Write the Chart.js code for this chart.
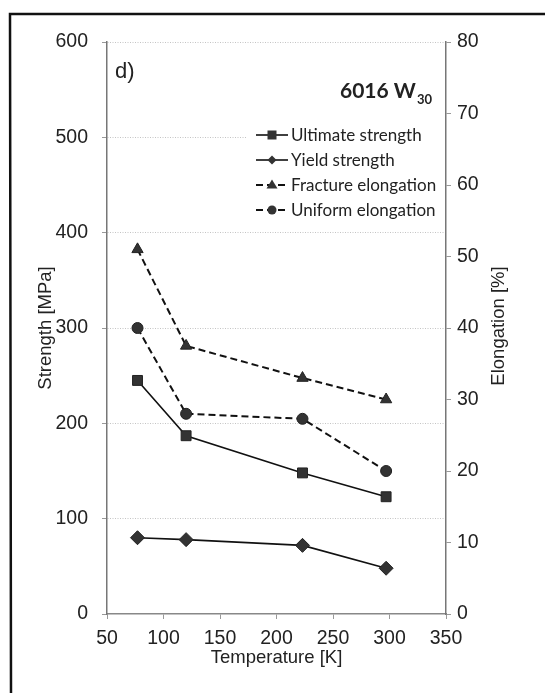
<!DOCTYPE html>
<html>
<head>
<meta charset="utf-8">
<script src="https://cdn.jsdelivr.net/npm/chart.js"></script>
<style>
  html, body { margin: 0; padding: 0; background: #fff; }
  #chart { display: block; }
</style>
</head>
<body>
<canvas id="chart" width="545" height="693"></canvas>
<script>
// temperatures [K]
const temps = [77, 120, 223, 297];
// strength [MPa]
const ultimate = [245, 187, 148, 123];
const yieldStr = [80, 78, 72, 48];
// elongation [%]
const fracture = [51, 37.5, 33, 30];
const uniform = [40, 28, 27.3, 20];

const names = ['Ultimate strength', 'Yield strength', 'Fracture elongation', 'Uniform elongation'];

const toPoints = vals => vals.map((v, i) => ({ x: temps[i], y: v }));

const tickFont = { family: 'Liberation Sans, Arial, sans-serif', size: 19.5 };
const titleFont = { family: 'Liberation Sans, Arial, sans-serif', size: 18.5 };

function series(label, vals, axis, style, radius, dashed) {
  return {
    label: label,
    data: toPoints(vals),
    yAxisID: axis,
    borderColor: '#111',
    borderWidth: dashed ? 2 : 1.6,
    borderDash: dashed ? [7, 4] : [],
    pointStyle: style,
    pointRadius: radius,
    pointBackgroundColor: '#333',
    pointBorderColor: '#222',
    pointBorderWidth: 1,
    showLine: true,
    tension: 0
  };
}

// draws the scanned frame, the labels inside the plot and the legend box
const extras = {
  id: 'extras',
  beforeDatasetsDraw(chart) {
    const ctx = chart.ctx;
    ctx.save();
    // legend background hides the 500 grid line
    ctx.fillStyle = '#fff';
    ctx.fillRect(246, 122, 198, 102);
    ctx.restore();
  },
  afterDraw(chart) {
    const ctx = chart.ctx;
    ctx.save();

    // outer frame
    ctx.strokeStyle = '#111';
    ctx.lineWidth = 2.5;
    ctx.beginPath();
    ctx.moveTo(545, 14);
    ctx.lineTo(10, 14);
    ctx.lineTo(11, 693);
    ctx.stroke();

    // panel letter and alloy name
    ctx.fillStyle = '#222';
    ctx.textBaseline = 'alphabetic';
    ctx.textAlign = 'left';
    ctx.font = '22px "Liberation Sans", Arial, sans-serif';
    ctx.fillText('d)', 115, 78);
    ctx.font = 'bold 21px Lato, sans-serif';
    ctx.fillText('6016 W', 340, 98);
    const w = ctx.measureText('6016 W').width;
    ctx.font = 'bold 13px Lato, sans-serif';
    ctx.fillText('30', 340 + w + 1, 104);

    // right axis title, reads bottom to top
    ctx.font = '18.5px "Liberation Sans", Arial, sans-serif';
    ctx.textAlign = 'center';
    ctx.textBaseline = 'middle';
    ctx.translate(499, 326);
    ctx.rotate(-Math.PI / 2);
    ctx.fillText('Elongation [%]', 0, 0);
    ctx.setTransform(1, 0, 0, 1, 0, 0);

    // legend
    const sets = chart.data.datasets;
    sets.forEach((ds, i) => {
      const y = 135 + i * 25;
      const x0 = 256, x1 = 288, cx = (x0 + x1) / 2;
      ctx.strokeStyle = '#111';
      ctx.lineWidth = ds.borderWidth;
      ctx.setLineDash(ds.borderDash);
      ctx.beginPath();
      ctx.moveTo(x0, y);
      ctx.lineTo(x1, y);
      ctx.stroke();
      ctx.setLineDash([]);
      ctx.fillStyle = '#333';
      ctx.beginPath();
      const r = 4.5;
      if (ds.pointStyle === 'rect') {
        ctx.rect(cx - r, y - r, 2 * r, 2 * r);
      } else if (ds.pointStyle === 'rectRot') {
        ctx.moveTo(cx, y - r);
        ctx.lineTo(cx + r, y);
        ctx.lineTo(cx, y + r);
        ctx.lineTo(cx - r, y);
        ctx.closePath();
      } else if (ds.pointStyle === 'triangle') {
        ctx.moveTo(cx, y - r - 1);
        ctx.lineTo(cx + r + 1, y + r - 1);
        ctx.lineTo(cx - r - 1, y + r - 1);
        ctx.closePath();
      } else {
        ctx.arc(cx, y, r, 0, Math.PI * 2);
      }
      ctx.fill();
      ctx.fillStyle = '#222';
      ctx.font = '17px Lato, sans-serif';
      ctx.textAlign = 'left';
      ctx.textBaseline = 'middle';
      ctx.fillText(names[i], 291, y + 1);
    });

    ctx.restore();
  }
};

new Chart(document.getElementById('chart'), {
  type: 'scatter',
  data: {
    datasets: [
      series(names[0], ultimate, 'y', 'rect', 7, false),
      series(names[1], yieldStr, 'y', 'rectRot', 7, false),
      series(names[2], fracture, 'y1', 'triangle', 6.5, true),
      series(names[3], uniform, 'y1', 'circle', 5.5, true)
    ]
  },
  options: {
    responsive: false,
    animation: false,
    layout: { padding: { top: 42, left: 0, right: 0, bottom: 0 } },
    plugins: {
      legend: { display: false },
      tooltip: { enabled: false }
    },
    scales: {
      x: {
        type: 'linear',
        min: 50,
        max: 350,
        afterFit(scale) { scale.height = 79; },
        ticks: { stepSize: 50, color: '#222', font: tickFont, padding: 8, maxRotation: 0 },
        grid: { drawOnChartArea: false, tickLength: 5, color: '#999' },
        border: { color: '#888', dash: [1, 1.5], width: 1.5 },
        title: { display: true, text: 'Temperature [K]', color: '#222', font: titleFont, padding: { bottom: 24 } }
      },
      y: {
        position: 'left',
        min: 0,
        max: 600,
        afterFit(scale) { scale.width = 107; },
        ticks: { stepSize: 100, color: '#222', font: tickFont, padding: 14 },
        grid: {
          tickLength: 5,
          color: c => (c.tick && c.tick.value === 0) ? 'rgba(0,0,0,0)' : '#c4c4c4',
          tickColor: '#999'
        },
        border: { color: '#777', dash: [1, 1.5], width: 1.5 },
        title: { display: true, text: 'Strength [MPa]', color: '#222', font: titleFont, padding: { top: 35 } }
      },
      y1: {
        position: 'right',
        min: 0,
        max: 80,
        afterFit(scale) { scale.width = 99; },
        ticks: { stepSize: 10, color: '#222', font: tickFont, padding: 6 },
        grid: { drawOnChartArea: false, tickLength: 5, color: '#999' },
        border: { color: '#777', dash: [1, 1.5], width: 1.5 }
      }
    }
  },
  plugins: [extras]
});
</script>
</body>
</html>
